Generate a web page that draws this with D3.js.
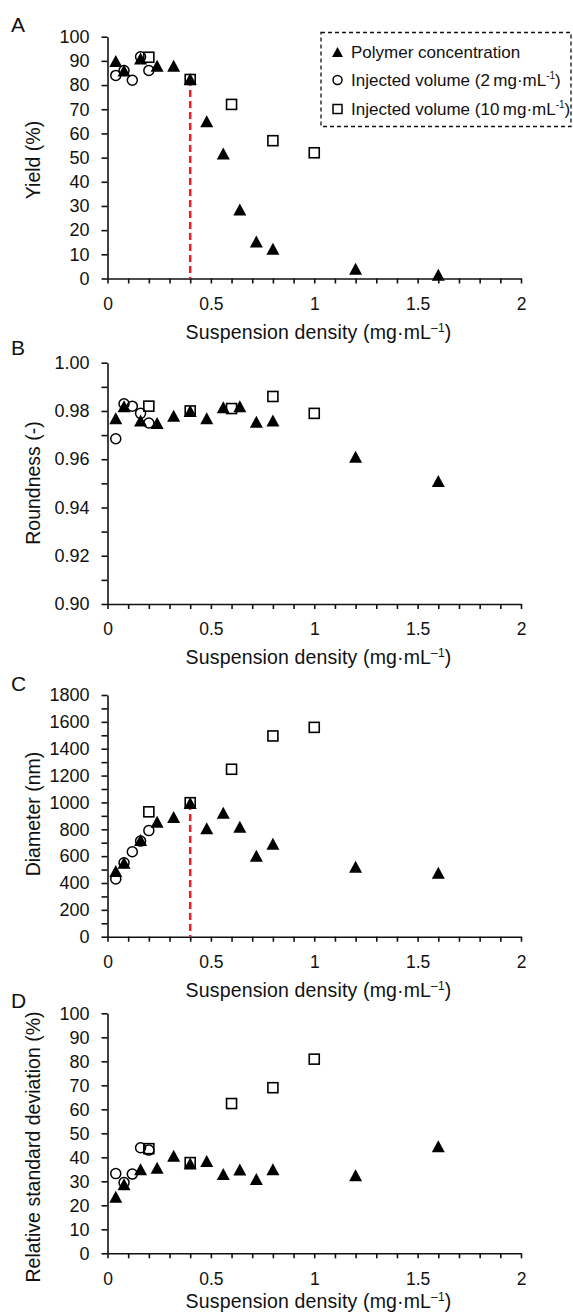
<!DOCTYPE html>
<html>
<head>
<meta charset="utf-8">
<script src="https://cdn.jsdelivr.net/npm/d3@7"></script>
<style>
    body { margin: 0; background: #fff; }
    text { font-family: "Liberation Sans", Arial, sans-serif; fill: #111; }
</style>
</head>
<body>
<div id="app"></div>
<script>
// suspension density (mg/mL) of each series
const xPolymer = [0.04, 0.08, 0.16, 0.24, 0.32, 0.40, 0.48, 0.56, 0.64, 0.72, 0.80, 1.2, 1.6];
const xInjected2 = [0.04, 0.08, 0.12, 0.16, 0.20];
const xInjected10 = [0.2, 0.4, 0.6, 0.8, 1.0];

// A - yield (%)
const yieldPolymer = [90, 86, 91, 88, 88, 82.5, 65, 51.7, 28.5, 15.3, 12.3, 4, 1.5];
const yieldInjected2 = [84, 86, 82, 91.7, 86];
const yieldInjected10 = [91.5, 82.3, 72, 57, 52];

// B - roundness (-)
const roundPolymer = [0.977, 0.982, 0.976, 0.975, 0.978, 0.980, 0.977, 0.9815, 0.982, 0.9755, 0.976, 0.961, 0.951];
const roundInjected2 = [0.9685, 0.983, 0.982, 0.979, 0.975];
const roundInjected10 = [0.982, 0.980, 0.981, 0.986, 0.979];

// C - diameter (nm)
const diamPolymer = [490, 550, 720, 856, 892, 995, 807, 923, 819, 603, 692, 521, 477];
const diamInjected2 = [430, 551, 633, 712, 790];
const diamInjected10 = [930, 998, 1247, 1495, 1559];

// D - relative standard deviation (%)
const rsdPolymer = [23.6, 28.8, 35, 35.6, 40.6, 37.4, 38.5, 33, 34.9, 31, 35, 32.5, 44.6];
const rsdInjected2 = [33.2, 29.5, 33, 44, 43];
const rsdInjected10 = [43.6, 37.8, 62.4, 69, 80.9];

// ticks
const xTicks = [0, 0.1, 0.2, 0.3, 0.4, 0.5, 0.6, 0.7, 0.8, 0.9, 1, 1.1, 1.2, 1.3, 1.4, 1.5, 1.6, 1.7, 1.8, 1.9, 2];
const xTickLabels = ["0", "0.5", "1", "1.5", "2"];
const yieldTicks = [0, 10, 20, 30, 40, 50, 60, 70, 80, 90, 100];
const roundTicks = [0.90, 0.91, 0.92, 0.93, 0.94, 0.95, 0.96, 0.97, 0.98, 0.99, 1.00];
const roundTickLabels = ["0.90", "0.92", "0.94", "0.96", "0.98", "1.00"];
const diamTicks = [0, 100, 200, 300, 400, 500, 600, 700, 800, 900, 1000, 1100, 1200, 1300, 1400, 1500, 1600, 1700, 1800];
const diamTickLabels = ["0", "200", "400", "600", "800", "1000", "1200", "1400", "1600", "1800"];
const rsdTicks = [0, 10, 20, 30, 40, 50, 60, 70, 80, 90, 100];

const legendNames = ["Polymer concentration", "Injected volume (2\u2009mg\u00b7mL", "Injected volume (10\u2009mg\u00b7mL"];
const cutoff = 0.4;

const panels = [
    { letter: "A", title: "Yield (%)", top: 36.7, bottom: 278.5, titleY: 160, letterY: 32, xTitleGap: 60,
      ticks: yieldTicks, labels: yieldTicks.map(String),
      series: [yieldPolymer, yieldInjected2, yieldInjected10], redLine: true },
    { letter: "B", title: "Roundness (-)", top: 362.7, bottom: 604, titleY: 483, letterY: 355, xTitleGap: 60,
      ticks: roundTicks, labels: roundTickLabels,
      series: [roundPolymer, roundInjected2, roundInjected10], redLine: false },
    { letter: "C", title: "Diameter (nm)", top: 695, bottom: 936.7, titleY: 814, letterY: 691, xTitleGap: 60,
      ticks: diamTicks, labels: diamTickLabels,
      series: [diamPolymer, diamInjected2, diamInjected10], redLine: true },
    { letter: "D", title: "Relative standard deviation (%)", top: 1013.3, bottom: 1253.3, titleY: 1147, letterY: 1008, xTitleGap: 55,
      ticks: rsdTicks, labels: rsdTicks.map(String),
      series: [rsdPolymer, rsdInjected2, rsdInjected10], redLine: false }
];

const svg = d3.select("#app")
    .append("svg")
        .attr("width", 573)
        .attr("height", 1313);

const x = d3.scaleLinear()
    .domain([0, 2])
    .range([107.5, 521]);

const triPath = (w, h) => `M0,${-h / 2}L${w / 2},${h / 2}L${-w / 2},${h / 2}Z`;

function fmtX(d) {
    const s = String(+d.toFixed(1));
    return xTickLabels.includes(s) ? s : "";
}

panels.forEach(p => {
    const g = svg.append("g");
    const extent = [p.ticks[0], p.ticks[p.ticks.length - 1]];
    const y = d3.scaleLinear()
        .domain(extent)
        .range([p.bottom, p.top]);

    // X axis
    const xAxis = g.append("g")
        .attr("transform", `translate(0, ${p.bottom})`)
        .call(d3.axisBottom(x).tickValues(xTicks).tickFormat(fmtX).tickSize(5).tickSizeOuter(0).tickPadding(14));
    xAxis.selectAll("text").style("font-size", "17.5px");

    g.append("text")
        .attr("text-anchor", "middle")
        .attr("x", 318.5)
        .attr("y", p.bottom + p.xTitleGap)
        .style("font-size", "19.5px")
        .style("letter-spacing", "0.15px")
        .call(t => {
            t.append("tspan").text("Suspension density (mg\u00b7mL");
            t.append("tspan").attr("dy", -7).style("font-size", "12px").text("\u20131");
            t.append("tspan").attr("dy", 7).text(")");
        });

    // Y axis
    const yAxis = g.append("g")
        .attr("transform", `translate(${x(0)}, 0)`)
        .call(d3.axisLeft(y).tickValues(p.ticks).tickSize(6).tickSizeOuter(0).tickPadding(12)
            .tickFormat(d => {
                const s = p.labels.find(l => Math.abs(+l - d) < 1e-9);
                return s === undefined ? "" : s;
            }));
    yAxis.selectAll("text").style("font-size", "18px");

    [xAxis, yAxis].forEach(a => {
        a.select(".domain").attr("stroke", "#111").attr("stroke-width", 1.6);
        a.selectAll(".tick line").attr("stroke", "#111").attr("stroke-width", 1.6);
        a.selectAll(".tick text").attr("fill", "#111");
    });

    g.append("text")
        .attr("text-anchor", "middle")
        .attr("transform", `translate(33, ${p.titleY}) rotate(-90)`)
        .attr("dy", "0.35em")
        .style("font-size", "19.5px")
        .text(p.title);

    g.append("text")
        .attr("x", 11)
        .attr("y", p.letterY)
        .style("font-size", "21px")
        .text(p.letter);

    // cut-off line at 0.4 mg/mL
    if (p.redLine) {
        const v = p.series[0][xPolymer.indexOf(cutoff)];
        g.append("line")
            .attr("x1", x(cutoff)).attr("x2", x(cutoff))
            .attr("y1", y(v)).attr("y2", y(extent[0]))
            .attr("stroke", "#ee1c25")
            .attr("stroke-width", 2.5)
            .attr("stroke-dasharray", "7,4");
    }

    const [sPoly, s2, s10] = p.series;

    // polymer concentration - filled triangles
    g.selectAll(".tri")
        .data(xPolymer.map((d, i) => [d, sPoly[i]]))
        .join("path")
            .attr("class", "tri")
            .attr("transform", d => `translate(${x(d[0])}, ${y(d[1])})`)
            .attr("d", triPath(13, 12))
            .attr("fill", "#000");

    // injected volume 2 mg/mL - open circles
    g.selectAll(".circ")
        .data(xInjected2.map((d, i) => [d, s2[i]]))
        .join("circle")
            .attr("class", "circ")
            .attr("cx", d => x(d[0]))
            .attr("cy", d => y(d[1]))
            .attr("r", 5)
            .attr("fill", "none")
            .attr("stroke", "#000")
            .attr("stroke-width", 1.5);

    // injected volume 10 mg/mL - open squares
    g.selectAll(".sq")
        .data(xInjected10.map((d, i) => [d, s10[i]]))
        .join("rect")
            .attr("class", "sq")
            .attr("x", d => x(d[0]) - 5)
            .attr("y", d => y(d[1]) - 5)
            .attr("width", 10)
            .attr("height", 10)
            .attr("fill", "none")
            .attr("stroke", "#000")
            .attr("stroke-width", 1.6);
});

// legend
const legend = svg.append("g");
legend.append("rect")
    .attr("x", 321)
    .attr("y", 32.5)
    .attr("width", 250)
    .attr("height", 94)
    .attr("fill", "#fff")
    .attr("stroke", "#111")
    .attr("stroke-width", 1.3)
    .attr("stroke-dasharray", "4,3");

const rowY = [52, 80, 109];
legend.append("path")
    .attr("transform", `translate(337.5, ${rowY[0]})`)
    .attr("d", triPath(11, 10))
    .attr("fill", "#000");
legend.append("circle")
    .attr("cx", 337.5).attr("cy", rowY[1]).attr("r", 4.5)
    .attr("fill", "none").attr("stroke", "#000").attr("stroke-width", 1.5);
legend.append("rect")
    .attr("x", 333).attr("y", rowY[2] - 4.5).attr("width", 9).attr("height", 9)
    .attr("fill", "none").attr("stroke", "#000").attr("stroke-width", 1.5);

legendNames.forEach((name, i) => {
    const t = legend.append("text")
        .attr("x", 351)
        .attr("y", rowY[i] + 6)
        .style("font-size", "17px");
    t.append("tspan").text(name);
    if (i > 0) {
        t.append("tspan").attr("dy", -7).style("font-size", "10px").text("-1");
        t.append("tspan").attr("dy", 7).text(")");
    }
});
</script>
</body>
</html>
